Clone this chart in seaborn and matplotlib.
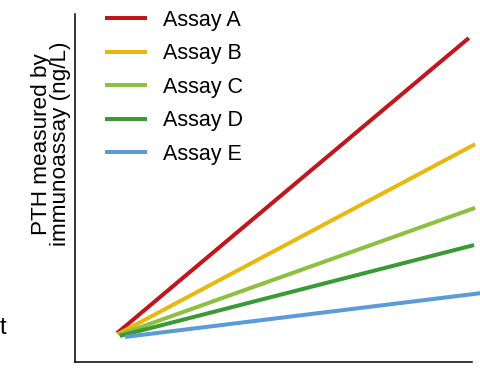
import matplotlib
matplotlib.use("Agg")
import matplotlib.pyplot as plt
import seaborn as sns
import pandas as pd

assays = ["Assay A", "Assay B", "Assay C", "Assay D", "Assay E"]
colors = ["#C0161E", "#E8B80E", "#8DC03F", "#3A9A35", "#5B9BD8"]
x_start = [10.6, 10.8, 11.1, 11.3, 12.6]
x_end = [99.2, 100.8, 100.8, 100.5, 102.3]
y_start = [8.3, 8.0, 7.8, 7.5, 7.2]
y_end = [93.1, 62.6, 44.3, 33.6, 19.8]

rows = []
for a, xs, xe, ys, ye in zip(assays, x_start, x_end, y_start, y_end):
    rows.append({"assay": a, "x": xs, "y": ys})
    rows.append({"assay": a, "x": xe, "y": ye})
df = pd.DataFrame(rows)

sns.set_style("white")
plt.rcParams["font.family"] = ["Liberation Sans", "DejaVu Sans"]
plt.rcParams["text.color"] = "black"

fig = plt.figure(figsize=(4.81, 3.69), dpi=100)
ax = fig.add_axes([75 / 481, 7 / 369, 397 / 481, 348 / 369])

sns.lineplot(data=df, x="x", y="y", hue="assay", palette=colors,
             linewidth=2.9, ax=ax, legend=True, clip_on=False,
             solid_capstyle="butt")
ax.set_xlim(0, 100)
ax.set_ylim(0, 100)
ax.set_xticks([])
ax.set_yticks([])
ax.set_xlabel("")
ax.set_ylabel("")
for s in ["top", "right"]:
    ax.spines[s].set_visible(False)
for s in ["left", "bottom"]:
    ax.spines[s].set_color("black")
    ax.spines[s].set_linewidth(1.1)

leg = ax.legend(loc="upper left", bbox_to_anchor=(30 / 397, 1.012), frameon=False,
                fontsize=15.5, handlelength=1.95, handletextpad=0.75,
                labelspacing=0.58, borderaxespad=0, borderpad=0)
for line in leg.get_lines():
    line.set_linewidth(2.9)
for t in leg.get_texts():
    t.set_color("black")

fig.text(51 / 481, (369 - 144) / 369, "PTH measured by\nimmunoassay (ng/L)",
         rotation=90, ha="center", va="center", fontsize=16.2, linespacing=0.85,
         color="black")
fig.text(0.0, (369 - 334) / 369, "t", ha="left", va="baseline", fontsize=17,
         color="black")

fig.savefig("out.png", dpi=100)
